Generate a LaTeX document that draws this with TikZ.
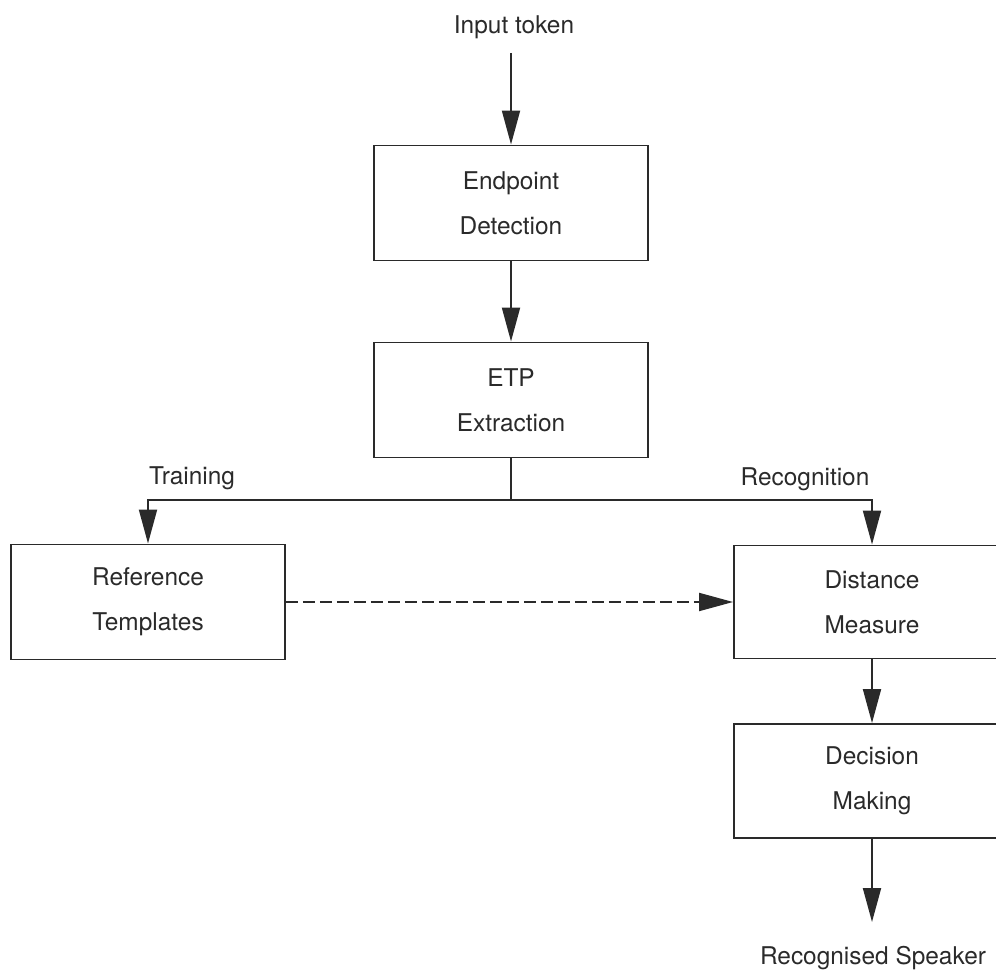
\documentclass[tikz,border=0pt]{standalone}
\usepackage{fontspec}
\setmainfont{TeX Gyre Heros}
\usetikzlibrary{arrows.meta}
\definecolor{ink}{HTML}{2A2A2A}
\begin{document}
\begin{tikzpicture}[x=0.02cm,y=-0.02cm,
    every node/.style={font=\fontsize{13.9}{25.5}\selectfont,text=ink},
    blockbox/.style={draw=ink,line width=1.1pt,minimum width=5.48cm,minimum height=2.3cm,align=center,inner sep=0pt},
    flow/.style={draw=ink,line width=1.1pt,-{Triangle[length=0.68cm,width=0.36cm]}}]
                \useasboundingbox (0,0) rectangle (996,972);
                \clip (0,0) rectangle (996,972);
                \node (input) at (514,27) {Input token};
                \coordinate (instart) at (511,53);
                \node[blockbox] (endpoint) at (511,203) {Endpoint\\Detection};
                \node[blockbox] (etp) at (511,400) {ETP\\Extraction};
                \coordinate (split) at (511,500);
                \node[blockbox] (ref) at (148,602) {Reference\\Templates};
                \node[blockbox,minimum width=5.52cm,minimum height=2.26cm] (dist) at (872,602) {Distance\\Measure};
                \node[blockbox,minimum width=5.52cm,minimum height=2.28cm] (dec) at (872,781) {Decision\\Making};
                \node (out) at (873,958) {Recognised Speaker};
                \coordinate (outend) at (872,922);
                \node (train) at (192,478) {Training};
                \node (recog) at (805,479) {Recognition};
                % connectors
                \draw[flow] (instart) -- (endpoint);
                \draw[flow] (endpoint) -- (etp);
                \draw[draw=ink,line width=1.1pt] (etp) -- (split);
                \draw[flow] (split) -| (ref);
                \draw[flow] (split) -| (dist);
                \draw[flow,dash pattern=on 0.24cm off 0.1cm] (ref) -- (dist);
                \draw[flow] (dist) -- (dec);
                \draw[flow] (dec) -- (outend);
            \end{tikzpicture}
\end{document}
